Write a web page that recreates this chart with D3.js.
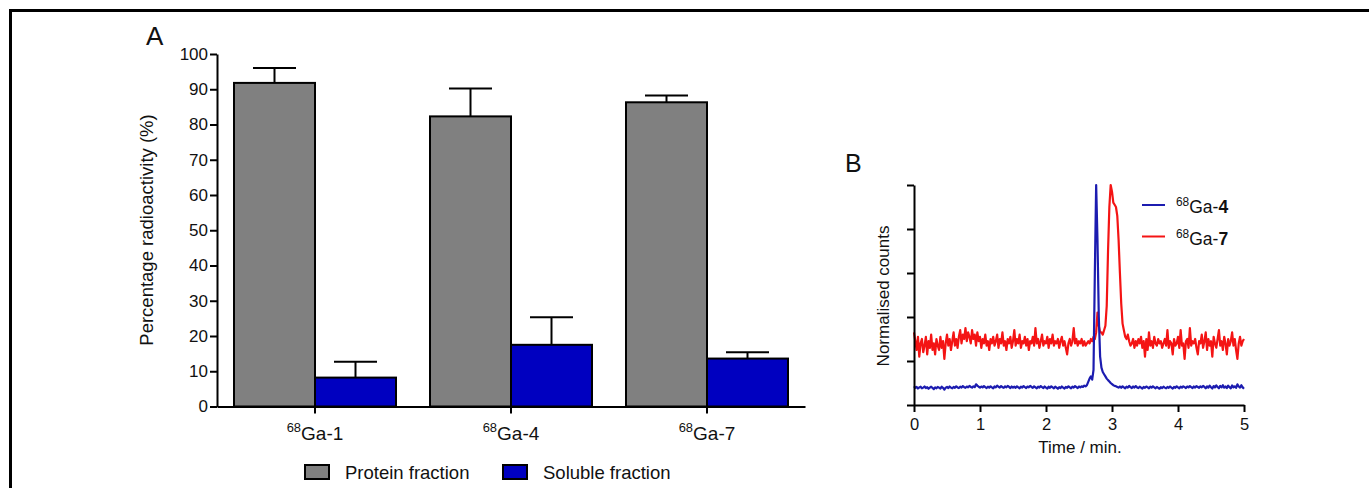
<!DOCTYPE html>
<head>
  <meta charset="utf-8">
  <script src="https://d3js.org/d3.v7.min.js"></script>
  <style>
    body { margin: 0; background: #fff; }
    svg text { font-family: "Liberation Sans", Arial, sans-serif; fill: #111; }
  </style>
</head>

<body>
  <div id="figure"></div>

  <script>
    // Panel A: fraction of radioactivity per compound
    var compounds = ["1", "4", "7"];
    var fractions = ["Protein fraction", "Soluble fraction"];
    var proteinMean = [91.8, 82.3, 86.3];
    var proteinErr = [4.2, 7.9, 1.9];
    var solubleMean = [8.2, 17.5, 13.6];
    var solubleErr = [4.5, 7.8, 1.8];
    var yTicksA = [0, 10, 20, 30, 40, 50, 60, 70, 80, 90, 100];

    // Panel B: normalised radio-HPLC traces, sampled every 0.02 min from 0 to 5 min
    var timeStep = 0.02;
    var timeTicks = [0, 1, 2, 3, 4, 5];
    var countTicks = [0, 0.2, 0.4, 0.6, 0.8, 1.0];
    var traceNames = ["4", "7"];
    var counts4 = [
      0.085,0.078,0.082,0.075,0.080,0.083,0.076,0.079,0.084,0.077,
      0.081,0.074,0.079,0.083,0.078,0.072,0.080,0.076,0.082,0.079,
      0.075,0.083,0.078,0.070,0.079,0.082,0.077,0.084,0.079,0.076,
      0.082,0.078,0.085,0.080,0.077,0.083,0.079,0.086,0.081,0.078,
      0.084,0.080,0.087,0.082,0.079,0.085,0.081,0.094,0.088,0.083,
      0.079,0.084,0.080,0.086,0.081,0.077,0.083,0.079,0.085,0.080,
      0.076,0.084,0.080,0.088,0.083,0.079,0.086,0.081,0.078,0.085,
      0.080,0.087,0.082,0.077,0.084,0.079,0.083,0.078,0.085,0.080,
      0.076,0.083,0.079,0.086,0.081,0.077,0.084,0.080,0.087,0.082,
      0.078,0.085,0.080,0.076,0.083,0.079,0.086,0.081,0.077,0.084,
      0.079,0.075,0.083,0.078,0.085,0.080,0.076,0.083,0.079,0.074,
      0.081,0.077,0.084,0.079,0.075,0.082,0.078,0.085,0.080,0.076,
      0.083,0.079,0.086,0.081,0.077,0.084,0.080,0.085,0.082,0.088,
      0.085,0.090,0.105,0.120,0.130,0.115,0.160,0.600,1.000,0.750,
      0.400,0.220,0.170,0.150,0.140,0.130,0.120,0.113,0.107,0.100,
      0.095,0.090,0.087,0.085,0.082,0.079,0.084,0.078,0.085,0.080,
      0.076,0.083,0.079,0.087,0.081,0.077,0.084,0.079,0.086,0.080,
      0.077,0.083,0.079,0.075,0.082,0.078,0.084,0.080,0.076,0.083,
      0.079,0.085,0.080,0.076,0.082,0.078,0.074,0.081,0.077,0.083,
      0.079,0.076,0.082,0.078,0.084,0.079,0.075,0.082,0.078,0.085,
      0.080,0.076,0.083,0.079,0.085,0.081,0.077,0.084,0.080,0.086,
      0.081,0.077,0.084,0.079,0.086,0.082,0.078,0.085,0.080,0.087,
      0.082,0.076,0.085,0.079,0.088,0.081,0.075,0.086,0.080,0.089,
      0.082,0.076,0.087,0.080,0.090,0.079,0.084,0.077,0.088,0.081,
      0.076,0.089,0.080,0.085,0.078,0.094,0.084,0.079,0.090,0.080,
      0.074
    ];
    var counts7 = [
      0.330,0.290,0.250,0.310,0.220,0.280,0.300,0.240,0.270,0.310,
      0.230,0.290,0.260,0.320,0.250,0.280,0.230,0.300,0.270,0.250,
      0.310,0.260,0.290,0.210,0.280,0.320,0.270,0.300,0.250,0.290,
      0.330,0.270,0.300,0.260,0.310,0.340,0.280,0.320,0.300,0.350,
      0.290,0.330,0.310,0.280,0.340,0.300,0.320,0.270,0.330,0.290,
      0.310,0.260,0.300,0.280,0.320,0.270,0.290,0.250,0.300,0.280,
      0.310,0.270,0.290,0.320,0.260,0.300,0.280,0.330,0.270,0.290,
      0.250,0.300,0.280,0.310,0.260,0.290,0.340,0.270,0.300,0.280,
      0.320,0.260,0.290,0.280,0.310,0.270,0.300,0.250,0.290,0.280,
      0.310,0.270,0.350,0.280,0.300,0.260,0.290,0.320,0.270,0.290,
      0.280,0.310,0.260,0.300,0.280,0.320,0.270,0.290,0.280,0.300,
      0.260,0.290,0.310,0.270,0.290,0.260,0.230,0.280,0.300,0.270,
      0.290,0.350,0.280,0.300,0.270,0.290,0.280,0.300,0.270,0.290,
      0.270,0.280,0.290,0.280,0.300,0.290,0.310,0.300,0.330,0.420,
      0.360,0.330,0.330,0.320,0.340,0.360,0.450,0.700,0.900,1.000,
      0.970,0.920,0.910,0.900,0.860,0.750,0.600,0.460,0.370,0.340,
      0.310,0.300,0.320,0.290,0.270,0.280,0.300,0.260,0.290,0.270,
      0.300,0.280,0.310,0.260,0.290,0.220,0.300,0.250,0.330,0.270,
      0.290,0.260,0.310,0.280,0.270,0.300,0.280,0.290,0.260,0.280,
      0.300,0.270,0.340,0.260,0.290,0.280,0.230,0.300,0.270,0.280,
      0.310,0.260,0.340,0.270,0.280,0.210,0.290,0.300,0.260,0.350,
      0.270,0.290,0.280,0.300,0.260,0.230,0.290,0.280,0.320,0.260,
      0.290,0.330,0.250,0.300,0.270,0.290,0.220,0.310,0.280,0.260,
      0.300,0.340,0.270,0.290,0.250,0.310,0.280,0.230,0.300,0.270,
      0.290,0.330,0.270,0.300,0.250,0.210,0.280,0.310,0.270,0.290,
      0.300
    ];

    var barColours = { "Protein fraction": "#808080", "Soluble fraction": "#0000c0" };
    var lineColours = { "4": "#1c1cb0", "7": "#f41414" };

    var svg = d3.select("#figure").append("svg")
        .attr("width", 1369)
        .attr("height", 488);

    svg.append("rect").attr("width", 1369).attr("height", 488).attr("fill", "#fff");

    // Frame (only top and left edge visible in the crop)
    svg.append("path")
        .attr("d", "M10.5,500 L10.5,10.5 L1380,10.5")
        .attr("fill", "none")
        .attr("stroke", "#000")
        .attr("stroke-width", 3);

    // Adds a "68Ga-n" label with a superscript mass number
    function gaLabel(sel, n, size, boldNumber) {
        sel.text(null);
        sel.append("tspan").attr("font-size", size * 0.68).attr("dy", -size * 0.38).text("68");
        sel.append("tspan").attr("dy", size * 0.38).text("Ga-");
        sel.append("tspan").attr("font-weight", boldNumber ? "bold" : null).text(n);
    }

    function styleAxis(g) {
        g.select(".domain").attr("stroke", "#000").attr("stroke-width", 2);
        g.selectAll(".tick line").attr("stroke", "#000").attr("stroke-width", 2);
    }

    // ---------------- Panel A ----------------
    var yA = d3.scaleLinear().domain([0, 100]).range([406.5, 54]);
    var x0 = d3.scaleBand().domain(compounds).range([217, 805]);
    var x1 = d3.scaleBand().domain(fractions).range([17, x0.bandwidth() - 17]);

    var barData = [];
    compounds.forEach(function(c, i) {
        barData.push({ compound: c, fraction: fractions[0], mean: proteinMean[i], err: proteinErr[i] });
        barData.push({ compound: c, fraction: fractions[1], mean: solubleMean[i], err: solubleErr[i] });
    });

    // error bars first so bar outline sits on top of the stem base
    var errG = svg.append("g");
    barData.forEach(function(d) {
        var cx = x0(d.compound) + x1(d.fraction) + x1.bandwidth() / 2;
        errG.append("line")
            .attr("x1", cx).attr("x2", cx)
            .attr("y1", yA(d.mean)).attr("y2", yA(d.mean + d.err))
            .attr("stroke", "#000").attr("stroke-width", 2);
        errG.append("line")
            .attr("x1", cx - 21.5).attr("x2", cx + 21.5)
            .attr("y1", yA(d.mean + d.err)).attr("y2", yA(d.mean + d.err))
            .attr("stroke", "#000").attr("stroke-width", 2);
    });

    svg.append("g").selectAll("rect")
        .data(barData)
        .enter().append("rect")
        .attr("x", function(d) { return x0(d.compound) + x1(d.fraction); })
        .attr("y", function(d) { return yA(d.mean); })
        .attr("width", x1.bandwidth())
        .attr("height", function(d) { return yA(0) - yA(d.mean); })
        .attr("fill", function(d) { return barColours[d.fraction]; })
        .attr("stroke", "#000")
        .attr("stroke-width", 2);

    var yAxisA = svg.append("g")
        .attr("transform", "translate(217,0)")
        .call(d3.axisLeft(yA).tickValues(yTicksA).tickSize(7).tickSizeOuter(0).tickPadding(2));
    styleAxis(yAxisA);
    yAxisA.selectAll("text").attr("font-size", 17).attr("fill", "#111");

    var xAxisA = svg.append("g")
        .attr("transform", "translate(0," + yA(0) + ")")
        .call(d3.axisBottom(x0).tickSize(7).tickSizeOuter(0));
    styleAxis(xAxisA);
    xAxisA.selectAll(".tick text")
        .attr("font-size", 19)
        .attr("fill", "#111")
        .attr("y", 33)
        .attr("dy", null)
        .each(function(n) { gaLabel(d3.select(this), n, 19, false); });

    svg.append("text")
        .attr("transform", "translate(153,230) rotate(-90)")
        .attr("text-anchor", "middle")
        .attr("font-size", 18.5)
        .text("Percentage radioactivity (%)");

    svg.append("text")
        .attr("x", 146).attr("y", 45)
        .attr("font-size", 26)
        .text("A");

    // Legend A
    var legendA = svg.append("g");
    var legendX = [305, 503];
    fractions.forEach(function(f, i) {
        legendA.append("rect")
            .attr("x", legendX[i]).attr("y", 465)
            .attr("width", 24).attr("height", 14)
            .attr("fill", barColours[f])
            .attr("stroke", "#000").attr("stroke-width", 2);
        legendA.append("text")
            .attr("x", legendX[i] + 40).attr("y", 478.5)
            .attr("font-size", 18.5)
            .text(f);
    });

    // ---------------- Panel B ----------------
    var xB = d3.scaleLinear().domain([0, 5]).range([914, 1244]);
    var yB = d3.scaleLinear().domain([0, 1]).range([405, 185]);

    var traces = { "4": counts4, "7": counts7 };
    var line = d3.line()
        .x(function(d, i) { return xB(i * timeStep); })
        .y(function(d) { return yB(d); });

    ["7", "4"].forEach(function(name) {
        svg.append("path")
            .datum(traces[name])
            .attr("d", line)
            .attr("fill", "none")
            .attr("stroke", lineColours[name])
            .attr("stroke-width", 2.2)
            .attr("stroke-linejoin", "round");
    });

    var yAxisB = svg.append("g")
        .attr("transform", "translate(914,0)")
        .call(d3.axisLeft(yB).tickValues(countTicks).tickSize(7).tickSizeOuter(0).tickFormat(""));
    styleAxis(yAxisB);

    var xAxisB = svg.append("g")
        .attr("transform", "translate(0,405)")
        .call(d3.axisBottom(xB).tickValues(timeTicks).tickFormat(d3.format("d"))
            .tickSize(7).tickSizeOuter(0).tickPadding(6));
    styleAxis(xAxisB);
    xAxisB.selectAll("text").attr("font-size", 16.5).attr("fill", "#222");

    svg.append("text")
        .attr("x", 1080).attr("y", 453)
        .attr("text-anchor", "middle")
        .attr("font-size", 17)
        .attr("fill", "#222")
        .text("Time / min.");

    svg.append("text")
        .attr("transform", "translate(889,296) rotate(-90)")
        .attr("text-anchor", "middle")
        .attr("font-size", 17)
        .attr("fill", "#222")
        .text("Normalised counts");

    svg.append("text")
        .attr("x", 845).attr("y", 172)
        .attr("font-size", 25)
        .text("B");

    // Legend B
    var legendYB = [205, 236.5];
    traceNames.forEach(function(name, i) {
        svg.append("line")
            .attr("x1", 1142).attr("x2", 1165)
            .attr("y1", legendYB[i]).attr("y2", legendYB[i])
            .attr("stroke", lineColours[name])
            .attr("stroke-width", 2);
        var t = svg.append("text")
            .attr("x", 1176).attr("y", legendYB[i] + 8)
            .attr("font-size", 17.5)
            .attr("fill", "#222");
        gaLabel(t, name, 17.5, true);
    });
  </script>
</body>
